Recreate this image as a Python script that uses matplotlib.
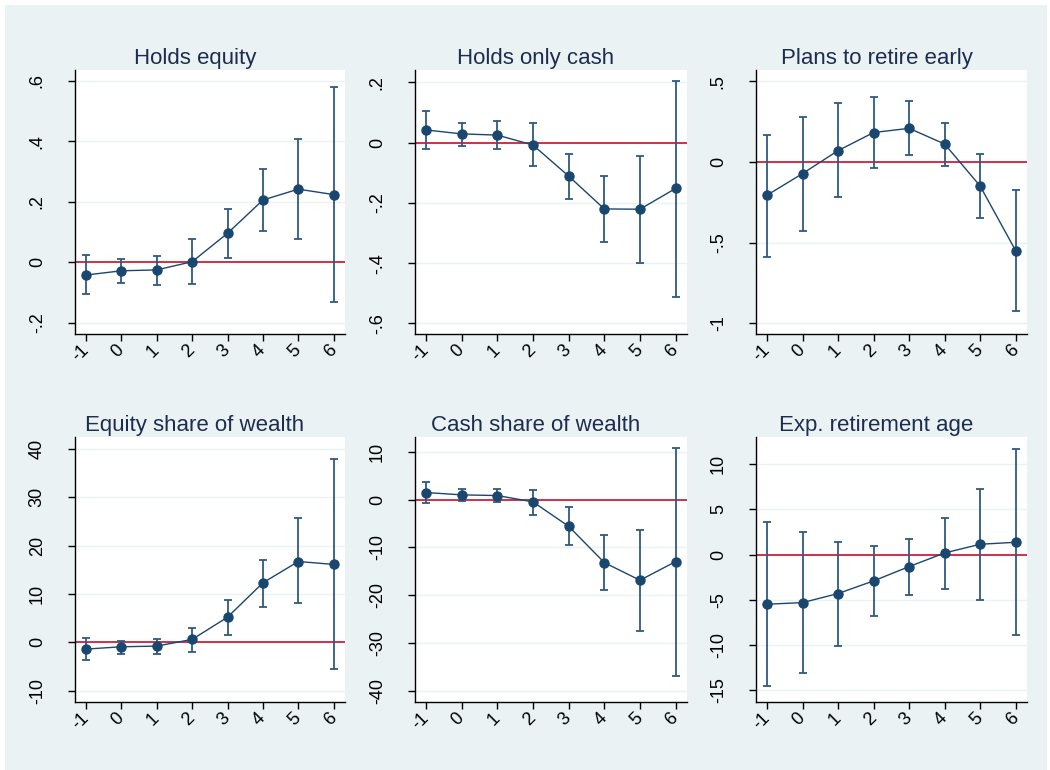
import matplotlib
matplotlib.use("Agg")
import matplotlib.pyplot as plt
from matplotlib.patches import Rectangle
import numpy as np

plt.rcParams['font.family'] = ['Liberation Sans', 'DejaVu Sans']

# ---------------- data ----------------
event_time = [-1, 0, 1, 2, 3, 4, 5, 6]
xtick_labels = ["-1", "0", "1", "2", "3", "4", "5", "6"]

titles = ["Holds equity", "Holds only cash", "Plans to retire early",
          "Equity share of wealth", "Cash share of wealth", "Exp. retirement age"]

holds_equity      = [-0.042, -0.028, -0.025, 0.002, 0.096, 0.206, 0.242, 0.224]
holds_equity_hi   = [0.024, 0.011, 0.022, 0.076, 0.176, 0.308, 0.407, 0.579]
holds_equity_lo   = [-0.106, -0.069, -0.075, -0.073, 0.013, 0.104, 0.076, -0.132]

only_cash         = [0.042, 0.029, 0.025, -0.008, -0.111, -0.220, -0.221, -0.152]
only_cash_hi      = [0.106, 0.066, 0.073, 0.064, -0.038, -0.110, -0.043, 0.205]
only_cash_lo      = [-0.021, -0.010, -0.021, -0.079, -0.188, -0.330, -0.401, -0.511]

retire_early      = [-0.206, -0.072, 0.070, 0.182, 0.208, 0.111, -0.149, -0.549]
retire_early_hi   = [0.169, 0.281, 0.363, 0.404, 0.376, 0.241, 0.047, -0.175]
retire_early_lo   = [-0.586, -0.425, -0.219, -0.039, 0.043, -0.025, -0.349, -0.922]

equity_share      = [-1.38, -0.90, -0.76, 0.62, 5.2, 12.3, 16.7, 16.1]
equity_share_hi   = [0.9, 0.28, 0.62, 2.9, 8.8, 17.0, 25.6, 37.9]
equity_share_lo   = [-3.7, -2.3, -2.3, -1.9, 1.45, 7.4, 8.1, -5.5]

cash_share        = [1.47, 0.98, 0.84, -0.49, -5.6, -13.2, -16.9, -13.0]
cash_share_hi     = [3.6, 2.2, 2.2, 2.1, -1.5, -7.4, -6.3, 10.7]
cash_share_lo     = [-0.7, -0.2, -0.56, -3.2, -9.6, -18.9, -27.6, -36.9]

ret_age           = [-5.49, -5.31, -4.31, -2.91, -1.33, 0.18, 1.14, 1.36]
ret_age_hi        = [3.58, 2.47, 1.40, 0.92, 1.77, 4.09, 7.23, 11.7]
ret_age_lo        = [-14.5, -13.05, -10.1, -6.82, -4.42, -3.83, -4.98, -8.92]

ytick_vals = [
    [-0.2, 0, 0.2, 0.4, 0.6],
    [-0.6, -0.4, -0.2, 0, 0.2],
    [-1, -0.5, 0, 0.5],
    [-10, 0, 10, 20, 30, 40],
    [-40, -30, -20, -10, 0, 10],
    [-15, -10, -5, 0, 5, 10],
]
ytick_labels = [
    ["-.2", "0", ".2", ".4", ".6"],
    ["-.6", "-.4", "-.2", "0", ".2"],
    ["-1", "-.5", "0", ".5"],
    ["-10", "0", "10", "20", "30", "40"],
    ["-40", "-30", "-20", "-10", "0", "10"],
    ["-15", "-10", "-5", "0", "5", "10"],
]
ylims = [(-0.237, 0.636), (-0.635, 0.241), (-1.065, 0.569),
         (-12.3, 42.4), (-42.4, 13.1), (-16.3, 13.0)]

series = [
    (holds_equity, holds_equity_lo, holds_equity_hi),
    (only_cash, only_cash_lo, only_cash_hi),
    (retire_early, retire_early_lo, retire_early_hi),
    (equity_share, equity_share_lo, equity_share_hi),
    (cash_share, cash_share_lo, cash_share_hi),
    (ret_age, ret_age_lo, ret_age_hi),
]

# ---------------- layout ----------------
W, H = 1050, 770
fig = plt.figure(figsize=(W / 100, H / 100), dpi=100)
fig.patch.set_facecolor("white")
BG = "#eaf2f3"
fig.patches.append(Rectangle((5 / W, 0), (W - 8) / W, (H - 5) / H,
                             transform=fig.transFigure, facecolor=BG,
                             edgecolor="none", zorder=-10))

cols = [(75, 345), (415, 687), (756, 1027)]
rows = [(70, 334), (437, 702)]

NAVY = "#1a476f"
BAR = "#2f5a80"
RED = "#c8102e"

for i in range(6):
    r, c = divmod(i, 3)
    x0, x1 = cols[c]
    y0, y1 = rows[r]
    ax = fig.add_axes([x0 / W, 1 - y1 / H, (x1 - x0) / W, (y1 - y0) / H])
    ax.set_facecolor("white")
    y, lo, hi = series[i]
    x = np.array(event_time)
    y = np.array(y); lo = np.array(lo); hi = np.array(hi)

    for v in ytick_vals[i]:
        ax.axhline(v, color=BG, lw=1.0, zorder=0)
    ax.axhline(0, color=RED, lw=1.2, zorder=1)

    ax.errorbar(x, y, yerr=[y - lo, hi - y], fmt="none", ecolor=BAR,
                elinewidth=1.3, capsize=3.2, capthick=1.3, zorder=2)
    ax.plot(x, y, color=NAVY, lw=1.0, marker="o", markersize=6.5,
            markerfacecolor=NAVY, markeredgecolor=NAVY, zorder=3)

    ax.set_xlim(-1.31, 6.32)
    ax.set_ylim(*ylims[i])
    ax.set_xticks(event_time)
    ax.set_xticklabels(xtick_labels, rotation=45, ha="right", va="center",
                       rotation_mode="anchor", fontsize=13)
    ax.set_yticks(ytick_vals[i])
    ax.set_yticklabels(ytick_labels[i], rotation=90, va="center",
                       fontsize=13)
    ax.tick_params(axis="both", direction="out", length=5, width=1,
                   color="black", labelcolor="black")
    ax.tick_params(axis="x", pad=5)
    ax.tick_params(axis="y", pad=16)
    for s in ["top", "right"]:
        ax.spines[s].set_visible(False)
    for s in ["left", "bottom"]:
        ax.spines[s].set_color("black")
        ax.spines[s].set_linewidth(1.0)
    ax.set_title(titles[i], fontsize=16, color="#1e2d4f", pad=4,
                 x=0.5 - 15 / (x1 - x0))

fig.savefig("out.png", dpi=100, facecolor=fig.get_facecolor())
